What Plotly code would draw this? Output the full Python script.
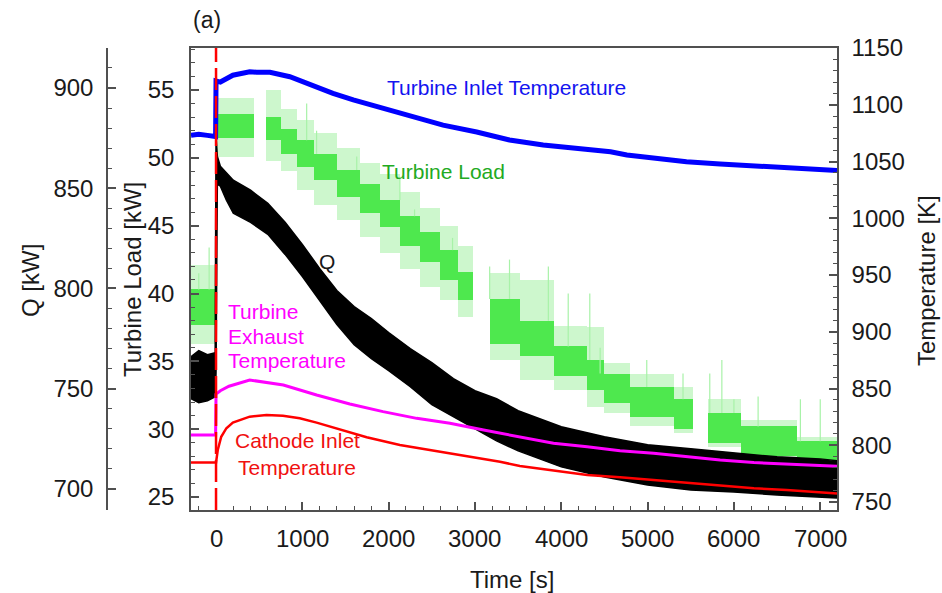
import plotly.graph_objects as go

# ---------------------------------------------------------------------------
# Measured series (time in s)
# ---------------------------------------------------------------------------
# Turbine inlet temperature [K]
t_tit = [-290, -200, -100, -5, 0, 50, 195, 390, 470, 625, 855, 1087, 1355, 1590,
         1935, 2250, 2630, 3020, 3400, 3790, 4180, 4570, 4760, 5070, 5450, 5840,
         6230, 6610, 7194]
T_tit = [1073, 1074, 1073, 1072, 1121, 1120, 1126, 1129, 1128.6, 1128.6, 1124.7,
         1117.4, 1110, 1104.2, 1097, 1090, 1082, 1076, 1069, 1064.5, 1061.6,
         1058.6, 1055.7, 1052.8, 1049.8, 1047.8, 1046, 1044, 1042]

# Turbine exhaust temperature [K]
t_tet = [-290, -150, -5, 0, 50, 150, 390, 780, 1165, 1550, 1935, 2325, 2710, 3100,
         3490, 3910, 4300, 4680, 5070, 5450, 5840, 6230, 6610, 7194]
T_tet = [809, 809, 809, 845, 848, 852, 857.5, 853, 844.3, 836.3, 829.6, 823.7,
         819.3, 813.4, 808, 801.7, 798.7, 795.2, 792.9, 789.9, 787, 784.7, 783.2,
         781.5]

# Cathode inlet temperature [K]
t_cit = [-290, -150, -5, 0, 20, 60, 120, 195, 390, 585, 775, 970, 1165, 1355, 1550,
         1745, 2130, 2520, 2900, 3290, 3520, 3910, 4300, 4680, 5070, 5450, 5840,
         6230, 6610, 7194]
T_cit = [784.7, 784.7, 784.7, 784.7, 795.8, 807.5, 815, 820, 825.2, 826.7, 826,
         823.7, 819.9, 815.8, 811, 807, 800.2, 795.2, 790.5, 785.5, 781.7, 777.6,
         773.8, 771.8, 769.4, 766.5, 764.1, 762.1, 760.6, 757.5]

# Q [kW]: upper / lower envelope of the fluctuating signal
t_q = [-290, -200, -100, -10, 0, 15, 50, 120, 200, 400, 600, 800, 1000, 1200, 1400,
       1600, 1800, 2000, 2250, 2500, 2750, 3000, 3250, 3500, 3750, 4000, 4500, 5000,
       5500, 6000, 6500, 7000, 7194]
q_hi = [766, 769, 767, 768, 876, 866, 861, 857.5, 854, 849, 842.5, 833, 822, 810,
        799, 791, 785, 778, 770, 763, 755, 749, 745, 739, 735, 731, 726, 722, 720,
        718, 716, 715, 714]
q_lo = [745, 743, 744, 746, 758, 852, 851, 844, 837.5, 833, 827, 817, 806, 794, 782,
        772, 765, 759, 751, 742, 736, 730, 724, 719, 715, 711, 706, 702, 699.5, 698.5,
        697, 696, 695.5]

# Turbine load [kW]: quantised load steps (start, end, dense range, spike range)
ld_start = [-290, 0, 580, 750, 940, 1130, 1400, 1670, 1900, 2130, 2360, 2600, 2800,
            3170, 3520, 3910, 4300, 4500, 4800, 5300, 5700, 6080, 6730]
ld_end = [-10, 440, 750, 940, 1130, 1400, 1670, 1900, 2130, 2360, 2600, 2800, 2980,
          3520, 3910, 4300, 4500, 4800, 5300, 5530, 6080, 6730, 7194]
ld_core_lo = [37.7, 51.5, 51.3, 50.3, 49.3, 48.4, 47.1, 45.9, 44.9, 43.5, 42.3, 41.0,
              39.5, 36.3, 35.4, 33.9, 32.9, 31.9, 30.9, 30.0, 29.0, 28.0, 27.7]
ld_core_hi = [40.3, 53.2, 53.0, 52.1, 51.3, 50.3, 49.1, 48.1, 46.9, 45.7, 44.5, 43.2,
              41.6, 39.6, 38.0, 36.1, 35.1, 34.1, 33.1, 32.2, 31.2, 30.2, 29.1]
ld_spk_lo = [36.3, 50.1, 49.8, 49.0, 47.6, 46.5, 45.4, 44.2, 43.0, 41.8, 40.5, 39.5,
             38.3, 35.1, 33.6, 32.9, 31.6, 31.2, 30.2, 29.7, 28.7, 27.7, 27.5]
ld_spk_hi = [42.1, 54.4, 55.0, 53.6, 52.8, 51.8, 50.7, 49.6, 48.8, 47.5, 46.3, 45.0,
             43.5, 41.5, 41.0, 37.6, 37.5, 34.9, 34.1, 33.1, 32.2, 30.7, 29.4]

# Isolated load spikes: time, bottom, top [kW]
sp_t = [-200, -80, 1050, 1165, 1630, 2130, 2300, 2740, 3170, 3400, 3850, 4080,
        4330, 4450, 4990, 5410, 5720, 5860, 6000, 6280, 6770, 7000]
sp_lo = [40.3, 40.3, 51.3, 50.3, 49.1, 46.9, 45.7, 43.2, 39.6, 39.6, 38.0, 36.1,
         35.1, 34.1, 33.1, 32.2, 31.2, 31.2, 31.2, 30.2, 29.1, 29.1]
sp_hi = [41.5, 43.4, 54.0, 52.0, 50.1, 48.6, 46.2, 44.1, 42.0, 42.5, 42.0, 40.0,
         40.0, 36.0, 35.1, 34.1, 34.1, 35.1, 32.2, 32.4, 32.2, 32.2]

# Time axis tick values
time_ticks = [0, 1000, 2000, 3000, 4000, 5000, 6000, 7000]

# ---------------------------------------------------------------------------
# Page geometry helpers (pixel -> paper coordinates)
# ---------------------------------------------------------------------------
W, H = 942, 593
ML, MR, MT, MB = 100, 105, 48, 83
PW, PH = W - ML - MR, H - MT - MB


def pxx(p):
    return (p - ML) / PW


def pxy(p):
    return (H - MB - p) / PH


FONT = "Liberation Sans, Arial, sans-serif"
AX = "#505050"
TXT = "#1a1a1a"

fig = go.Figure()

# Turbine load: spike range (pale) and dense range (bright)
mids = [(a + b) / 2 for a, b in zip(ld_start, ld_end)]
wids = [b - a for a, b in zip(ld_start, ld_end)]
fig.add_trace(go.Bar(
    x=mids, width=wids, base=ld_spk_lo,
    y=[h - l for h, l in zip(ld_spk_hi, ld_spk_lo)],
    marker=dict(color="#cdf7cd", line=dict(width=0)),
    xaxis="x", yaxis="y", showlegend=False, hoverinfo="skip"))
fig.add_trace(go.Bar(
    x=mids, width=wids, base=ld_core_lo,
    y=[h - l for h, l in zip(ld_core_hi, ld_core_lo)],
    marker=dict(color="#4ee84e", line=dict(width=0)),
    xaxis="x", yaxis="y", showlegend=False, hoverinfo="skip"))
sx, sy = [], []
for t, lo, hi in zip(sp_t, sp_lo, sp_hi):
    sx += [t, t, None]
    sy += [lo, hi, None]
fig.add_trace(go.Scatter(x=sx, y=sy, mode="lines",
                         line=dict(color="#a8f2a8", width=1.2),
                         xaxis="x", yaxis="y", showlegend=False,
                         hoverinfo="skip"))

# Q band
fig.add_trace(go.Scatter(x=t_q, y=q_lo, mode="lines",
                         line=dict(color="black", width=1.5),
                         xaxis="x", yaxis="y2", showlegend=False))
fig.add_trace(go.Scatter(x=t_q, y=q_hi, mode="lines", fill="tonexty",
                         fillcolor="black", line=dict(color="black", width=1.5),
                         xaxis="x", yaxis="y2", showlegend=False))

# Temperatures
fig.add_trace(go.Scatter(x=t_cit, y=T_cit, mode="lines",
                         line=dict(color="#ff0000", width=2.5),
                         xaxis="x", yaxis="y3", showlegend=False))
fig.add_trace(go.Scatter(x=t_tet, y=T_tet, mode="lines",
                         line=dict(color="#ff00ff", width=3),
                         xaxis="x", yaxis="y3", showlegend=False))
fig.add_trace(go.Scatter(x=t_tit, y=T_tit, mode="lines",
                         line=dict(color="#0000ff", width=5),
                         xaxis="x", yaxis="y3", showlegend=False))

# Step time marker
fig.add_shape(type="line", xref="x", yref="paper", x0=0, x1=0, y0=0, y1=1,
              line=dict(color="#ff0000", width=2.5, dash="22px,6px"),
              layer="above")

tickfont = dict(family=FONT, size=24, color=TXT)
common = dict(showgrid=False, zeroline=False, showline=True, linecolor=AX,
              linewidth=1.5, ticks="inside", ticklen=8, tickwidth=1.5,
              tickcolor=AX, tickfont=tickfont)
minor_common = dict(ticks="inside", ticklen=4, tickcolor=AX, tickwidth=1.2)

fig.update_layout(
    width=W, height=H,
    margin=dict(l=ML, r=MR, t=MT, b=MB),
    paper_bgcolor="white", plot_bgcolor="white",
    barmode="overlay", bargap=0,
    font=dict(family=FONT, color=TXT),
    xaxis=dict(domain=[pxx(191), 1], range=[-290, 7194], tickmode="array",
               tickvals=time_ticks, showticklabels=False, mirror=True,
               minor=dict(dtick=200, **minor_common), **common),
    yaxis=dict(range=[24.04, 58.1], tickmode="linear", tick0=25, dtick=5,
               ticklabelstandoff=10, minor=dict(dtick=1, **minor_common),
               **common),
    yaxis2=dict(range=[689.5, 919.95], overlaying="y", anchor="free",
                position=pxx(107), side="left", tickmode="linear", tick0=700,
                dtick=50, ticklabelstandoff=8,
                minor=dict(dtick=10, **minor_common), **common),
    yaxis3=dict(range=[742.95, 1150], overlaying="y", anchor="x", side="right",
                tickmode="linear", tick0=750, dtick=50, ticklabelstandoff=8,
                minor=dict(dtick=10, **minor_common), **common),
)

# Time tick labels, placed just below the axis
for v in time_ticks:
    fig.add_annotation(text=str(v), x=v, y=pxy(538), xref="x", yref="paper",
                       xanchor="center", yanchor="middle", showarrow=False,
                       font=tickfont)


def label(text, x, y, size=21, color=TXT, xanchor="center", angle=0):
    fig.add_annotation(text=text, x=pxx(x), y=pxy(y), xref="paper", yref="paper",
                       xanchor=xanchor, yanchor="middle", showarrow=False,
                       textangle=angle, font=dict(family=FONT, size=size,
                                                   color=color))


# Axis titles
label("Q [kW]", 30, 281, size=24, angle=-90)
label("Turbine Load [kW]", 132, 280, size=24, angle=-90)
label("Temperature [K]", 926, 281, size=24, angle=-90)
label("Time [s]", 512, 579, size=24)
label("(a)", 207, 20, size=23)

# Series labels
label("Turbine Inlet Temperature", 385, 88, color="#1414f0", xanchor="left")
label("Turbine Load", 380, 171, color="#22aa22", xanchor="left")
label("Q", 327, 261, color=TXT)
label("Turbine", 226, 311, color="#ff00ff", xanchor="left")
label("Exhaust", 226, 336, color="#ff00ff", xanchor="left")
label("Temperature", 226, 360, color="#ff00ff", xanchor="left")
label("Cathode Inlet", 297, 440, color="#f01010")
label("Temperature", 297, 467, color="#f01010")

fig.write_html("out.html")
